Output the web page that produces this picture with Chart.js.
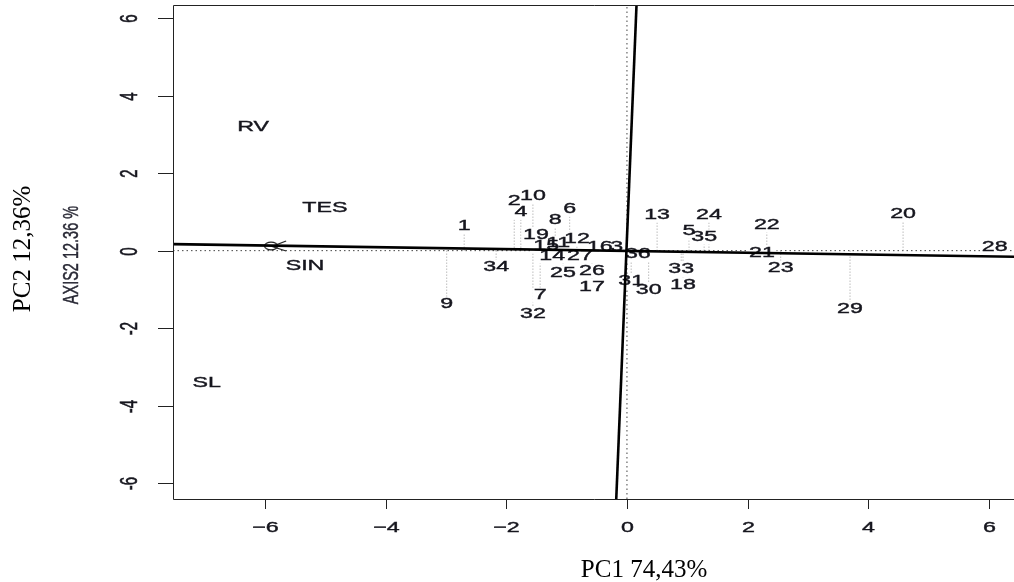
<!DOCTYPE html>
<html>
<head>
<meta charset="utf-8">
<script src="https://cdn.jsdelivr.net/npm/chart.js@4.4.1/dist/chart.umd.min.js"></script>
<style>
  html, body { margin: 0; padding: 0; background: #fff; }
  #wrap { width: 1014px; height: 582px; }
</style>
</head>
<body>
<div id="wrap"><canvas id="pcaChart" width="1014" height="582"></canvas></div>
<script>
// observations (PC1, PC2 scores)
const obsLabels = ['1','2','3','4','5','6','7','8','9','10','11','12','13','14','15','16','17','18',
  '19','20','21','22','23','24','25','26','27','28','29','30','31','32','33','34','35','36'];
const obsX = [-2.70, -1.87, -0.17, -1.76, 1.03, -0.95, -1.44, -1.19, -2.99, -1.56, -1.14, -0.83,
  0.50, -1.24, -1.34, -0.45, -0.58, 0.93, -1.51, 4.58, 2.24, 2.32, 2.55, 1.36,
  -1.06, -0.58, -0.78, 6.10, 3.70, 0.36, 0.07, -1.56, 0.90, -2.17, 1.28, 0.18];
const obsY = [0.63, 1.28, 0.09, 0.99, 0.50, 1.07, -1.15, 0.79, -1.38, 1.41, 0.19, 0.30,
  0.92, -0.14, 0.12, 0.09, -0.94, -0.89, 0.40, 0.94, -0.06, 0.66, -0.45, 0.92,
  -0.58, -0.53, -0.14, 0.09, -1.51, -1.02, -0.79, -1.64, -0.48, -0.43, 0.35, -0.09];

// variables
const varLabels = ['RV', 'TES', 'SIN', 'SL'];
const varX = [-6.20, -5.01, -5.34, -6.97];
const varY = [3.19, 1.10, -0.40, -3.42];

// rotated axes
const axis1X = [-7.6, 6.5];
const axis1Y = [0.17, -0.16];
const axis2X = [0.16, -0.18];
const axis2Y = [6.4, -6.5];
const markX = [-5.82];
const markY = [0.12];

const xTicks = [-6, -4, -2, 0, 2, 4, 6];
const yTicks = [-6, -4, -2, 0, 2, 4, 6];
const xRange = [-7.53, 6.42];
const yRange = [-6.41, 6.34];

const STRETCH = 1.55;
const TXT = '#16161e';
const SANS = '"Liberation Sans", Arial, sans-serif';
const SERIF = '"Liberation Serif", "Times New Roman", serif';

const spikeData = [];
obsX.forEach((x, i) => {
  spikeData.push({ x: x, y: 0 }, { x: x, y: obsY[i] }, { x: x, y: null });
});

// little "o<" marker
const markImg = document.createElement('canvas');
markImg.width = 26; markImg.height = 14;
(function () {
  const c = markImg.getContext('2d');
  c.strokeStyle = '#222';
  c.lineWidth = 1.3;
  c.beginPath();
  c.ellipse(8, 7, 6.5, 3.8, 0, 0, Math.PI * 2);
  c.stroke();
  c.beginPath();
  c.moveTo(23, 2); c.lineTo(9, 7.5); c.lineTo(23, 12);
  c.stroke();
})();

function stretchText(ctx, text, x, y, font, opts) {
  opts = opts || {};
  ctx.save();
  ctx.translate(x, y);
  ctx.scale(opts.sx || 1, 1);
  if (opts.rotate) ctx.rotate(opts.rotate);
  ctx.font = font;
  ctx.textAlign = 'center';
  ctx.textBaseline = 'middle';
  if (opts.box) {
    const w = ctx.measureText(text).width;
    ctx.fillStyle = '#fff';
    ctx.fillRect(-w / 2 - 1, -7.5, w + 2, 15);
  } else {
    ctx.fillStyle = opts.color || TXT;
    ctx.fillText(text, 0, 0);
    if (opts.weight) {
      ctx.strokeStyle = opts.color || TXT;
      ctx.lineWidth = opts.weight;
      ctx.strokeText(text, 0, 0);
    }
  }
  ctx.restore();
}

const labelPlugin = {
  id: 'labelPlugin',
  afterDatasetDraw(chart, args) {
    if (chart.data.datasets[args.index].id !== 'spikes') return;
    const ctx = chart.ctx;
    const xs = chart.scales.x, ys = chart.scales.y;
    const a = chart.chartArea;
    const font = '15px ' + SANS;
    ctx.save();
    ctx.beginPath();
    ctx.rect(a.left, a.top, a.right - a.left, a.bottom - a.top);
    ctx.clip();
    // white boxes first, then all the texts
    [true, false].forEach(box => {
      obsLabels.forEach((t, i) => {
        stretchText(ctx, t, xs.getPixelForValue(obsX[i]), ys.getPixelForValue(obsY[i]),
          font, { sx: STRETCH, box: box, weight: 0.4 });
      });
      varLabels.forEach((t, i) => {
        stretchText(ctx, t, xs.getPixelForValue(varX[i]), ys.getPixelForValue(varY[i]),
          font, { sx: STRETCH, box: box, weight: 0.4 });
      });
    });
    ctx.restore();
  },
  afterDraw(chart) {
    const ctx = chart.ctx;
    const xs = chart.scales.x, ys = chart.scales.y;
    const a = chart.chartArea;
    ctx.save();
    ctx.strokeStyle = '#222';
    ctx.lineWidth = 1;
    ctx.beginPath();
    ctx.moveTo(a.right + 2, a.top + 0.5);
    ctx.lineTo(a.left + 0.5, a.top + 0.5);
    ctx.lineTo(a.left + 0.5, a.bottom + 0.5);
    ctx.lineTo(a.right + 2, a.bottom + 0.5);
    ctx.stroke();
    xTicks.forEach(v => {
      const px = Math.round(xs.getPixelForValue(v)) + 0.5;
      ctx.strokeStyle = '#222';
      ctx.lineWidth = 1;
      ctx.beginPath();
      ctx.moveTo(px, a.bottom);
      ctx.lineTo(px, a.bottom + 10);
      ctx.stroke();
      const lbl = v < 0 ? '\u2212' + Math.abs(v) : String(v);
      stretchText(ctx, lbl, px, a.bottom + 29, '15px ' + SANS, { sx: STRETCH, weight: 0.4 });
    });
    yTicks.forEach(v => {
      const py = Math.round(ys.getPixelForValue(v)) + 0.5;
      ctx.strokeStyle = '#222';
      ctx.lineWidth = 1;
      ctx.beginPath();
      ctx.moveTo(a.left - 15, py);
      ctx.lineTo(a.left, py);
      ctx.stroke();
      stretchText(ctx, String(v), a.left - 42, py, '15px ' + SANS,
        { sx: STRETCH, rotate: -Math.PI / 2, weight: 0.4 });
    });
    stretchText(ctx, 'AXIS2 12.36 %', 72, 255, '14.5px ' + SANS,
      { sx: STRETCH, rotate: -Math.PI / 2, color: '#2a2a36', weight: 0.3 });
    stretchText(ctx, 'PC2 12,36%', 23, 249, '25px ' + SERIF,
      { rotate: -Math.PI / 2, color: '#000' });
    stretchText(ctx, 'PC1 74,43%', 644, 570, '25px ' + SERIF, { color: '#000' });
    ctx.restore();
  }
};

const ctx = document.getElementById('pcaChart').getContext('2d');
new Chart(ctx, {
  type: 'scatter',
  data: {
    datasets: [
      {
        id: 'axis1',
        data: axis1X.map((x, i) => ({ x: x, y: axis1Y[i] })),
        showLine: true, borderColor: '#000', borderWidth: 2.6, pointRadius: 0, order: 0
      },
      {
        id: 'axis2',
        data: axis2X.map((x, i) => ({ x: x, y: axis2Y[i] })),
        showLine: true, borderColor: '#000', borderWidth: 2.6, pointRadius: 0, order: 0
      },
      {
        id: 'marker',
        data: markX.map((x, i) => ({ x: x, y: markY[i] })),
        pointStyle: markImg, pointRadius: 7, order: 1
      },
      {
        id: 'spikes',
        data: spikeData,
        showLine: true, spanGaps: false, borderColor: '#9a9a9a', borderWidth: 1,
        borderDash: [1, 2], pointRadius: 0, order: 2
      },
      {
        id: 'hzero',
        data: [{ x: xRange[0], y: 0 }, { x: xRange[1], y: 0 }],
        showLine: true, borderColor: '#444', borderWidth: 1, borderDash: [1.5, 3],
        pointRadius: 0, order: 3
      },
      {
        id: 'vzero',
        data: [{ x: 0, y: yRange[0] }, { x: 0, y: yRange[1] }],
        showLine: true, borderColor: '#444', borderWidth: 1, borderDash: [1.5, 3],
        pointRadius: 0, order: 3
      }
    ]
  },
  options: {
    responsive: false,
    devicePixelRatio: 1,
    animation: false,
    events: [],
    layout: { autoPadding: false, padding: { left: 173, right: 0, top: 5, bottom: 83 } },
    scales: {
      x: { type: 'linear', min: xRange[0], max: xRange[1], display: false },
      y: { type: 'linear', min: yRange[0], max: yRange[1], display: false }
    },
    plugins: { legend: { display: false }, tooltip: { enabled: false } }
  },
  plugins: [labelPlugin]
});
</script>
</body>
</html>
